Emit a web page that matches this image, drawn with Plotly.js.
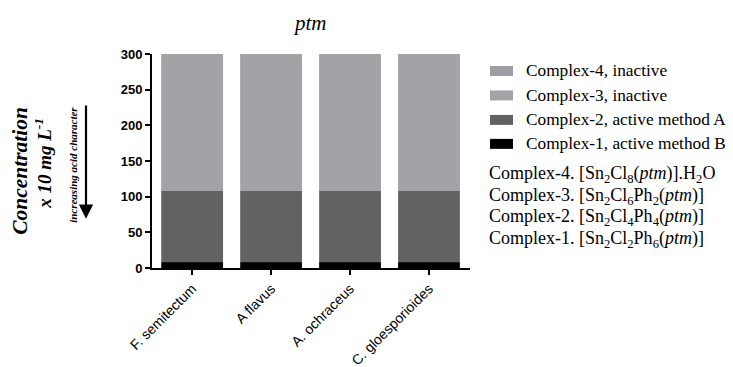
<!DOCTYPE html>
<html><head><meta charset="utf-8">
<script src="https://cdn.plot.ly/plotly-3.0.1.min.js"></script>
<style>html,body{margin:0;padding:0;background:#fff}#c{width:733px;height:367px}</style>
</head><body><div id="c"></div>
<script>
const categories = ["F. semitectum", "A flavus", "A. ochraceus", "C. gloesporioides"];
const complex4 = [300, 300, 300, 300];
const complex3 = [300, 300, 300, 300];
const complex2 = [108, 108, 108, 108];
const complex1 = [8, 8, 8, 8];
const seriesNames = ["Complex-4, inactive", "Complex-3, inactive", "Complex-2, active method A", "Complex-1, active method B"];
const seriesColors = ["#9e9da2", "#a3a2a7", "#626262", "#000000"];
const formulas = [
  "Complex-4. [Sn<sub>2</sub>Cl<sub>8</sub>(<i>ptm</i>)].H<sub>2</sub>O",
  "Complex-3. [Sn<sub>2</sub>Cl<sub>6</sub>Ph<sub>2</sub>(<i>ptm</i>)]",
  "Complex-2. [Sn<sub>2</sub>Cl<sub>4</sub>Ph<sub>4</sub>(<i>ptm</i>)]",
  "Complex-1. [Sn<sub>2</sub>Cl<sub>2</sub>Ph<sub>6</sub>(<i>ptm</i>)]"
];
const yTicks = [0, 50, 100, 150, 200, 250, 300];

const L = 152, R = 470, T = 54, B = 268.3;
const px = p => (p - L) / (R - L);
const py = p => (B - p) / (B - T);

const vals = [complex4, complex3, complex2, complex1];
const traces = vals.map((v, i) => ({
  type: 'bar', x: categories, y: v, name: seriesNames[i],
  marker: {color: seriesColors[i], line: {width: 0}}, width: 0.78, opacity: 1,
  showlegend: false, hoverinfo: 'skip'
}));

const serif = "Liberation Serif";
const shapes = [], annotations = [];
const legY = [71, 95.5, 120, 144];
seriesNames.forEach((n, i) => {
  shapes.push({type: 'rect', xref: 'paper', yref: 'paper', x0: px(490), x1: px(513),
    y0: py(legY[i] + 5), y1: py(legY[i] - 5), fillcolor: seriesColors[i], line: {width: 0}});
  annotations.push({xref: 'paper', yref: 'paper', x: px(524), y: py(legY[i]), xanchor: 'left', yanchor: 'middle',
    text: n, showarrow: false, font: {family: serif, size: 17.3, color: '#000'}});
});
const fY = [175, 196.5, 218, 240];
formulas.forEach((f, i) => {
  annotations.push({xref: 'paper', yref: 'paper', x: px(487), y: py(fY[i]), xanchor: 'left', yanchor: 'middle',
    text: f, showarrow: false, font: {family: serif, size: 18, color: '#000'}});
});
// title
annotations.push({xref: 'paper', yref: 'paper', x: px(310), y: py(23), xanchor: 'center', yanchor: 'middle',
  text: 'ptm', showarrow: false, font: {family: serif, size: 21, color: '#000', style: 'italic'}});
// y titles
annotations.push({xref: 'paper', yref: 'paper', x: px(20), y: py(171), xanchor: 'center', yanchor: 'middle', textangle: -90,
  text: 'Concentration', showarrow: false, font: {family: serif, size: 21.5, color: '#000', style: 'italic', weight: 'bold'}});
annotations.push({xref: 'paper', yref: 'paper', x: px(43), y: py(164), xanchor: 'center', yanchor: 'middle', textangle: -90,
  text: 'x 10 mg L<sup>-1</sup>', showarrow: false, font: {family: serif, size: 19, color: '#000', style: 'italic', weight: 'bold'}});
annotations.push({xref: 'paper', yref: 'paper', x: px(73), y: py(165), xanchor: 'center', yanchor: 'middle', textangle: -90,
  text: 'increasing acid character', showarrow: false, font: {family: serif, size: 11, color: '#000', style: 'italic', weight: 'bold'}});
// arrow
annotations.push({xref: 'paper', yref: 'paper', axref: 'paper', ayref: 'paper', x: px(86), y: py(219), ax: px(86), ay: py(104),
  text: '', showarrow: true, arrowhead: 2, arrowsize: 1.3, arrowwidth: 2.2, arrowcolor: '#000'});

const layout = {
  width: 733, height: 367,
  margin: {l: L, r: 733 - R, t: T, b: 367 - B, pad: 0},
  paper_bgcolor: '#fff', plot_bgcolor: '#fff',
  barmode: 'overlay', showlegend: false,
  xaxis: {type: 'category', range: [-0.51, 3.52], showline: true, linecolor: '#000', linewidth: 2,
    ticks: 'outside', ticklen: 5, tickwidth: 2, tickcolor: '#000', tickangle: -45,
    tickfont: {family: "Liberation Sans", size: 14, color: '#000'},
    showgrid: false, zeroline: false, fixedrange: true},
  yaxis: {range: [0, 300], tickvals: yTicks, ticktext: yTicks.map(String), showline: true, linecolor: '#000', linewidth: 2,
    ticks: 'outside', ticklen: 5, tickwidth: 2, tickcolor: '#000',
    tickfont: {family: "Liberation Sans", size: 13, color: '#000', weight: 'bold'},
    showgrid: false, zeroline: false, fixedrange: true},
  shapes: shapes, annotations: annotations
};
Plotly.newPlot('c', traces, layout, {displayModeBar: false, staticPlot: true});
</script></body></html>
